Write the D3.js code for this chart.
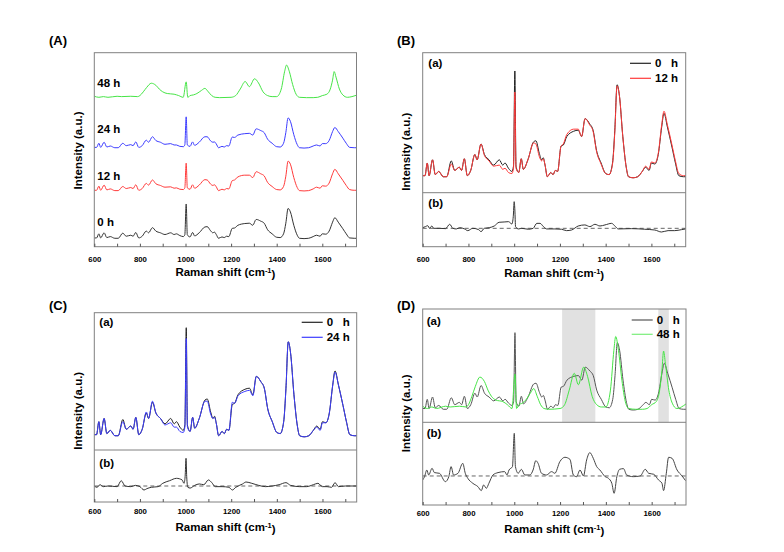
<!DOCTYPE html>
<html><head><meta charset="utf-8">
<script src="https://cdn.jsdelivr.net/npm/d3@7"></script>
<style>
body{margin:0;background:#fff}
text{font-family:"Liberation Sans",Arial,sans-serif;font-weight:bold;fill:#000}
</style>
</head><body>
<svg id="chart" width="784" height="552"></svg>
<script>
// ---------------- data ----------------
const ticksMajor = [600, 800, 1000, 1200, 1400, 1600];
const timeLabels = ["0 h", "12 h", "24 h", "48 h"];

// Raman shift grid for 0 h / 12 h / 24 h spectra
const shiftA = [600,610,620,628,643,655,670,690,705,725,740,760,770,782,795,810,828,838,855,870,890,910,935,950,960,975,990,997,1003,1008,1020,1031,1040,1060,1085,1095,1110,1120,1127,1135,1145,1160,1170,1180,1190,1205,1215,1230,1260,1280,1295,1310,1330,1345,1360,1380,1400,1415,1430,1440,1450,1460,1475,1490,1500,1520,1540,1560,1575,1590,1600,1615,1630,1645,1655,1670,1690,1705,1720,1740,1750];
const spec0h = [0.01,0.01,0.13,0.01,0.16,0.02,0.05,0.0,0.0,0.15,0.06,0.09,0.06,0.17,0.01,0.06,0.21,0.16,0.31,0.21,0.16,0.11,0.16,0.11,0.13,0.08,0.05,0.1,1.0,0.1,0.04,0.17,0.07,0.16,0.33,0.34,0.22,0.16,0.18,0.11,0.0,0.04,0.02,0.06,0.05,0.29,0.30,0.38,0.43,0.44,0.38,0.55,0.50,0.44,0.25,0.13,0.03,0.02,0.13,0.44,0.87,0.77,0.38,0.09,0.0,-0.01,0.0,0.05,0.09,0.06,0.13,0.12,0.21,0.47,0.60,0.47,0.28,0.13,0.01,0.0,0.0];
const spec12h = [0.01,0.01,0.13,0.01,0.16,0.02,0.05,0.0,0.0,0.12,0.06,0.09,0.06,0.17,0.01,0.06,0.21,0.16,0.31,0.20,0.15,0.10,0.11,0.07,0.08,0.04,0.03,0.08,0.80,0.08,0.04,0.17,0.07,0.16,0.32,0.31,0.19,0.15,0.17,0.11,0.0,0.04,0.02,0.06,0.05,0.29,0.31,0.40,0.45,0.45,0.38,0.55,0.49,0.43,0.24,0.12,0.03,0.02,0.12,0.42,0.86,0.77,0.38,0.09,0.0,-0.01,0.0,0.05,0.10,0.07,0.14,0.13,0.22,0.49,0.62,0.49,0.30,0.15,0.03,0.01,0.01];
const spec24h = [0.01,0.01,0.13,0.01,0.16,0.02,0.05,0.0,0.0,0.13,0.06,0.09,0.06,0.17,0.01,0.06,0.22,0.16,0.32,0.21,0.16,0.10,0.12,0.08,0.08,0.04,0.03,0.08,0.90,0.08,0.04,0.17,0.07,0.16,0.32,0.32,0.20,0.16,0.17,0.11,0.0,0.04,0.02,0.06,0.05,0.31,0.30,0.37,0.41,0.42,0.37,0.55,0.50,0.44,0.25,0.13,0.03,0.02,0.13,0.44,0.87,0.77,0.38,0.09,0.0,-0.01,0.0,0.05,0.08,0.05,0.12,0.12,0.21,0.47,0.59,0.47,0.28,0.13,0.01,0.0,0.0];

// 48 h spectrum
const shift48 = [600,620,640,660,700,720,760,790,800,815,830,850,870,885,900,920,950,970,990,1003,1010,1020,1035,1050,1070,1085,1100,1115,1130,1150,1200,1220,1240,1262,1280,1303,1320,1340,1360,1380,1400,1420,1435,1443,1455,1470,1485,1500,1530,1560,1580,1600,1620,1635,1645,1652,1660,1675,1690,1710,1730,1750];
const spec48h = [0.04,0.01,0.03,0.01,0.04,0.03,0.04,0.03,0.06,0.17,0.30,0.42,0.36,0.25,0.17,0.12,0.10,0.06,0.01,0.46,0.01,0.06,0.08,0.12,0.21,0.27,0.17,0.06,0.01,0.0,0.01,0.06,0.25,0.47,0.32,0.55,0.43,0.17,0.06,0.03,0.03,0.25,0.77,0.95,0.77,0.38,0.10,0.01,0.0,0.0,0.01,0.06,0.10,0.25,0.51,0.76,0.60,0.25,0.08,0.01,0.03,0.07];

// difference spectra (b)
const shiftDiff12 = [600,612,622,630,640,648,672,700,718,732,747,762,783,797,819,845,855,869,891,913,934,956,975,990,996,1000,1003,1006,1019,1033,1062,1083,1099,1113,1128,1142,1178,1207,1229,1251,1280,1309,1331,1353,1375,1397,1426,1443,1455,1513,1571,1615,1644,1673,1702,1731,1750];
const diff12 = [0.006,0.016,0.025,0,0.022,0,0,-0.003,0.038,0,-0.006,0.006,-0.006,-0.022,0,-0.013,-0.032,0,0.006,0.022,0.057,0.06,0.063,0.041,0.11,0.252,0.173,0.016,-0.006,0,-0.009,0,0.047,0.047,0.016,-0.006,-0.006,-0.009,-0.022,-0.016,0.022,0.032,0.016,0.038,0.022,0.032,0.047,0.016,-0.006,-0.003,-0.009,-0.016,-0.035,-0.022,-0.022,-0.013,-0.006];

const shiftDiff24 = [600,612,625,640,660,700,718,735,760,780,800,818,830,850,880,900,930,960,985,993,998,1002,1005,1010,1020,1040,1060,1080,1100,1115,1130,1160,1190,1205,1220,1250,1265,1290,1320,1350,1380,1410,1440,1460,1500,1530,1560,1580,1600,1620,1640,1655,1670,1700,1750];
const diff24 = [0,-0.012,0.012,-0.006,0,-0.006,0.049,0,-0.006,0.006,-0.006,-0.037,-0.025,-0.012,-0.006,0.025,0.049,0.071,0.056,0.025,0.086,0.256,0.086,-0.012,-0.019,0.006,0.019,0.012,0.056,0.031,-0.006,-0.006,-0.012,-0.037,-0.012,0.019,0.037,0.025,0.006,-0.006,0,0.012,0.031,0.006,-0.006,-0.006,0.012,0.025,-0.006,-0.006,-0.012,0.031,-0.006,0,0];

const shiftDiff48 = [600,608,618,626,641,651,673,699,714,724,735,754,775,786,797,819,841,856,866,878,889,907,929,958,968,977,992,1000,1005,1017,1031,1046,1068,1082,1094,1104,1119,1141,1163,1177,1199,1221,1243,1258,1272,1287,1302,1316,1330,1345,1360,1374,1397,1411,1426,1436,1448,1460,1477,1491,1520,1550,1572,1587,1609,1630,1645,1652,1664,1674,1689,1711,1733,1748];
const diff48 = [-0.052,-0.009,0.078,0.013,0.1,0.044,0.035,-0.074,-0.009,0.122,0.013,0.035,0.165,0.035,-0.03,-0.096,-0.139,-0.191,-0.117,-0.161,-0.096,0.013,0.044,0.057,0.013,0.078,0.122,0.557,0.122,0.035,0.087,0.013,0.013,0.078,0.2,0.165,0.035,0.013,0.057,0.035,0.187,0.244,0.218,0.013,-0.009,0.078,0,0.209,0.305,0.231,0.122,0.078,-0.009,-0.03,-0.096,-0.226,-0.009,0.087,0.096,0.013,-0.009,0,0.087,0.035,0.022,-0.052,-0.096,-0.191,0.035,0.244,0.231,0.078,0,-0.061];

// shaded regions in (D)
const shadeRanges = [[1209, 1354], [1629, 1675]];

// ---------------- drawing ----------------
const svg = d3.select("#chart");
const FRAME = "#808080";
const C0 = "#222222", C0D = "#555555", C12 = "#ff3a3a", C24 = "#3c3cff", C48 = "#46e446";
let clipId = 0;

function makeX(l, r) { return d3.scaleLinear().domain([600, 1750]).range([l, r]); }
function makeY(dom, bottom, top) { return d3.scaleLinear().domain(dom).range([bottom, top]); }

function clipGroup(x0, y0, x1, y1) {
  const id = "clip" + (clipId++);
  svg.append("clipPath").attr("id", id).append("rect")
    .attr("x", x0).attr("y", y0).attr("width", x1 - x0).attr("height", y1 - y0);
  return svg.append("g").attr("clip-path", `url(#${id})`);
}

function drawSpec(g, x, y, xs, ys, color, offset = 0, w = 1) {
  const pts = xs.map((d, i) => [d, ys[i] + offset]);
  g.append("path").datum(pts)
    .attr("fill", "none").attr("stroke", color).attr("stroke-width", w)
    .attr("stroke-linejoin", "round")
    .attr("d", d3.line().x(d => x(d[0])).y(d => y(d[1])).curve(d3.curveMonotoneX));
}

function frame(x0, y0, x1, y1) {
  svg.append("rect").attr("x", x0).attr("y", y0).attr("width", x1 - x0).attr("height", y1 - y0)
    .attr("fill", "none").attr("stroke", FRAME).attr("stroke-width", 1);
}

function xAxis(x, yb, labelY, titleY) {
  const ax = d3.axisBottom(x).tickValues(d3.range(600, 1701, 100))
    .tickSize(-3).tickFormat(d => ticksMajor.includes(d) ? d : "");
  const g = svg.append("g").attr("transform", `translate(0,${yb})`).call(ax);
  g.select(".domain").remove();
  g.selectAll(".tick line").attr("stroke", "#555");
  g.selectAll("text").attr("y", labelY - yb).attr("dy", "0.35em")
    .style("font-size", "7.8px").style("font-family", "'Liberation Sans',Arial,sans-serif")
    .style("font-weight", "bold").attr("fill", "#000");
  const xm = (x.range()[0] + x.range()[1]) / 2;
  const t = svg.append("text").attr("x", xm).attr("y", titleY).attr("text-anchor", "middle")
    .attr("dy", "0.35em").style("font-size", "11.5px");
  t.append("tspan").text("Raman shift (cm");
  t.append("tspan").text("-1").attr("dy", "-0.45em").style("font-size", "7.5px");
  t.append("tspan").text(")").attr("dy", "0.45em");
}

function yTitle(cx, cy) {
  svg.append("text").attr("transform", `translate(${cx},${cy}) rotate(-90)`)
    .attr("text-anchor", "middle").attr("dy", "0.35em").style("font-size", "11.5px")
    .text("Intensity (a.u.)");
}

function label(txt, x, y, size = 11.5) {
  svg.append("text").attr("x", x).attr("y", y).attr("dy", "0.35em")
    .style("font-size", size + "px").style("white-space", "pre").text(txt);
}

function legend(x0, y1, y2, entries) {
  entries.forEach((e, i) => {
    const yy = i === 0 ? y1 : y2;
    svg.append("line").attr("x1", x0).attr("x2", x0 + 21).attr("y1", yy).attr("y2", yy)
      .attr("stroke", e.color).attr("stroke-width", 1.2);
    svg.append("text").attr("x", x0 + 25).attr("y", yy).attr("dy", "0.35em")
      .style("font-size", "11.5px").style("white-space", "pre").text(e.text);
  });
}

function zeroLine(x, y) {
  svg.append("line").attr("x1", x.range()[0]).attr("x2", x.range()[1])
    .attr("y1", y(0)).attr("y2", y(0)).attr("stroke", "#666")
    .attr("stroke-width", 1).attr("stroke-dasharray", "4,3");
}

// ---------- Panel A ----------
{
  const L = 94.3, R = 356.5, T = 52.7, B = 246.7;
  const x = makeX(L, R);
  const y = makeY([-0.245, 5.41], B, T);
  const offsets = [0, 1.39, 2.64, 4.10];
  const g = clipGroup(L, T, R, B);
  drawSpec(g, x, y, shiftA, spec0h, "#333", offsets[0]);
  drawSpec(g, x, y, shiftA, spec12h, C12, offsets[1]);
  drawSpec(g, x, y, shiftA, spec24h, C24, offsets[2]);
  drawSpec(g, x, y, shift48, spec48h, C48, offsets[3]);
  frame(L, T, R, B);
  xAxis(x, B, 259, 272);
  yTitle(78.3, 150.5);
  label("(A)", 49, 40, 13);
  const ly = [221.7, 176, 129.3, 82.7];
  timeLabels.forEach((t, i) => label(t, 97.3, ly[i]));
}

// ---------- Panel B ----------
{
  const L = 422.7, R = 685.7, T = 52.7, M = 192.7, B = 246.7;
  const x = makeX(L, R);
  const yT = makeY([-0.151, 1.173], M, T);
  const yB = makeY([-0.174, 0.337], B, M);
  const g = clipGroup(L, T, R, M);
  drawSpec(g, x, yT, shiftA, spec0h, C0);
  drawSpec(g, x, yT, shiftA, spec12h, C12);
  zeroLine(x, yB);
  const g2 = clipGroup(L, M, R, B);
  drawSpec(g2, x, yB, shiftDiff12, diff12, "#333");
  frame(L, T, R, B);
  svg.append("line").attr("x1", L).attr("x2", R).attr("y1", M).attr("y2", M).attr("stroke", FRAME);
  xAxis(x, B, 259, 273);
  yTitle(406, 151.7);
  label("(B)", 397, 40, 13);
  label("(a)", 428.3, 63.3);
  label("(b)", 428.3, 203.3);
  legend(630, 63.3, 78.3, [{color: C0, text: "0   h"}, {color: C12, text: "12 h"}]);
}

// ---------- Panel C ----------
{
  const L = 94.3, R = 356.7, T = 312.7, M = 450, B = 502;
  const x = makeX(L, R);
  const yT = makeY([-0.132, 1.139], M, T);
  const yB = makeY([-0.148, 0.333], B, M);
  const g = clipGroup(L, T, R, M);
  drawSpec(g, x, yT, shiftA, spec0h, C0);
  drawSpec(g, x, yT, shiftA, spec24h, C24);
  zeroLine(x, yB);
  const g2 = clipGroup(L, M, R, B);
  drawSpec(g2, x, yB, shiftDiff24, diff24, "#333");
  frame(L, T, R, B);
  svg.append("line").attr("x1", L).attr("x2", R).attr("y1", M).attr("y2", M).attr("stroke", FRAME);
  xAxis(x, B, 511, 527);
  yTitle(78.3, 410.8);
  label("(C)", 49, 305, 13);
  label("(a)", 99.3, 321.7);
  label("(b)", 99.3, 463.3);
  legend(301.7, 322.3, 337.3, [{color: C0, text: "0   h"}, {color: C24, text: "24 h"}]);
}

// ---------- Panel D ----------
{
  const L = 422.7, R = 686, T = 309, M = 422.3, B = 505;
  const x = makeX(L, R);
  const yT = makeY([-0.17, 1.309], M, T);
  const yB = makeY([-0.379, 0.701], B, M);
  svg.append("g").selectAll("rect").data(shadeRanges).join("rect")
    .attr("x", d => x(d[0])).attr("width", d => x(d[1]) - x(d[0]))
    .attr("y", T).attr("height", M - T).attr("fill", "#e1e1e1");
  const g = clipGroup(L, T, R, M);
  drawSpec(g, x, yT, shiftA, spec0h, C0D);
  drawSpec(g, x, yT, shift48, spec48h, C48);
  zeroLine(x, yB);
  const g2 = clipGroup(L, M, R, B);
  drawSpec(g2, x, yB, shiftDiff48, diff48, "#444");
  frame(L, T, R, B);
  svg.append("line").attr("x1", L).attr("x2", R).attr("y1", M).attr("y2", M).attr("stroke", FRAME);
  xAxis(x, B, 513, 529);
  yTitle(406, 413.3);
  label("(D)", 397, 305, 13);
  label("(a)", 426.7, 320.7);
  label("(b)", 426.7, 433.3);
  legend(631.7, 320, 334.3, [{color: C0D, text: "0   h"}, {color: "#7aee7a", text: "48 h"}]);
}
</script>
</body></html>
